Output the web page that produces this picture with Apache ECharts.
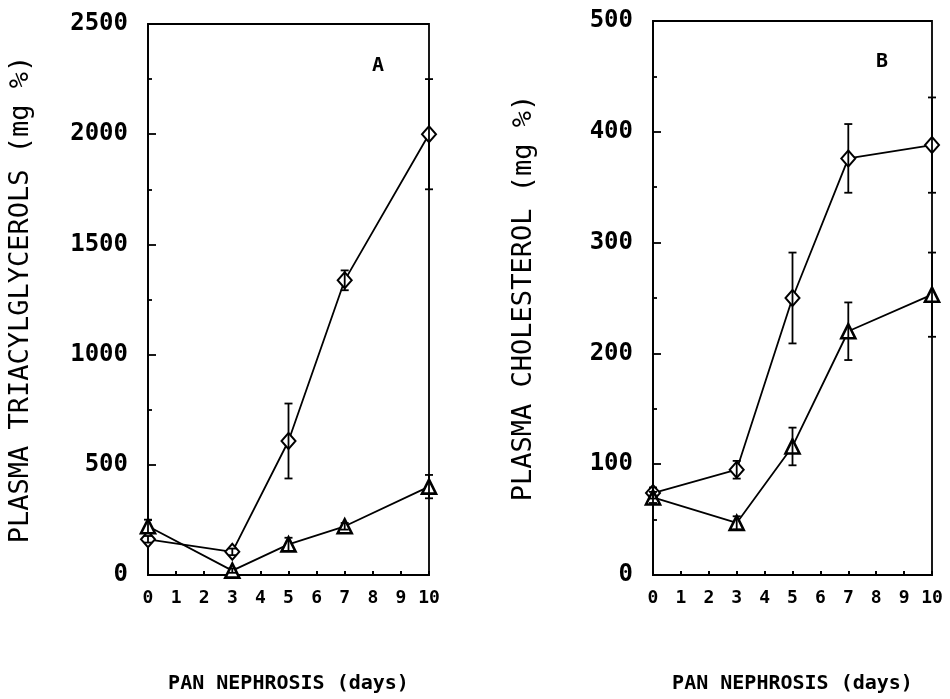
<!DOCTYPE html>
<html>
<head>
<meta charset="utf-8">
<script src="https://cdn.jsdelivr.net/npm/echarts@6/dist/echarts.min.js"></script>
<style>
  html, body { margin: 0; padding: 0; background: #fff; }
  #chart { width: 950px; height: 699px; }
</style>
</head>
<body>
<div id="chart"></div>
<script>
  // days
  var days = [0, 3, 5, 7, 10];
  var xTicks = ['0','1','2','3','4','5','6','7','8','9','10'];

  // panel A - triacylglycerols (mg %)
  var tgDiamond = [162, 105, 608, 1337, 2000];
  var tgDiamondErr = [15, 15, 170, 45, 250];
  var tgTriangle = [221, 20, 139, 221, 401];
  var tgTriangleErr = [30, 10, 30, 15, 53];

  // panel B - cholesterol (mg %)
  var chDiamond = [74, 95, 250, 376, 388];
  var chDiamondErr = [5, 8, 41, 31, 43];
  var chTriangle = [70, 47, 116, 220, 253];
  var chTriangleErr = [5, 6, 17, 26, 38];

  var myChart = echarts.init(document.getElementById('chart'));
  var FONT = 'DejaVu Sans Mono';

  function pairs(vals) {
    var out = [];
    for (var i = 0; i < days.length; i++) out.push([days[i], vals[i]]);
    return out;
  }
  function errData(vals, errs) {
    var out = [];
    for (var i = 0; i < days.length; i++) out.push([days[i], vals[i] - errs[i], vals[i] + errs[i]]);
    return out;
  }
  // error bar drawn with the axis scale
  function errRender(params, api) {
    var lo = api.coord([api.value(0), api.value(1)]);
    var hi = api.coord([api.value(0), api.value(2)]);
    var w = 4;
    var st = { stroke: '#000', lineWidth: 1.8 };
    return {
      type: 'group',
      children: [
        { type: 'line', shape: { x1: lo[0], y1: lo[1], x2: hi[0], y2: hi[1] }, style: st },
        { type: 'line', shape: { x1: lo[0] - w, y1: lo[1], x2: lo[0] + w, y2: lo[1] }, style: st },
        { type: 'line', shape: { x1: hi[0] - w, y1: hi[1], x2: hi[0] + w, y2: hi[1] }, style: st }
      ]
    };
  }

  function xAxisCfg(idx) {
    return {
      type: 'value', gridIndex: idx, min: 0, max: 10, interval: 1,
      name: 'PAN NEPHROSIS (days)', nameLocation: 'middle', nameGap: 99,
      nameTextStyle: { fontFamily: FONT, fontWeight: 'bold', fontSize: 20, color: '#000' },
      axisLine: { lineStyle: { color: '#000', width: 1.8 } },
      axisTick: { inside: true, length: 4, lineStyle: { color: '#000', width: 2 } },
      axisLabel: {
        fontFamily: FONT, fontWeight: 'bold', fontSize: 18, color: '#000', margin: 14,
        formatter: function (v) { return xTicks[v]; }
      },
      splitLine: { show: false }
    };
  }
  function yAxisCfg(idx, max, interval, name, nameGap) {
    return {
      type: 'value', gridIndex: idx, min: 0, max: max, interval: interval,
      name: name, nameLocation: 'middle', nameGap: nameGap, nameRotate: 90,
      nameTextStyle: { fontFamily: FONT, fontSize: 27, color: '#000' },
      axisLine: { show: true, lineStyle: { color: '#000', width: 1.8 } },
      axisTick: { inside: true, length: 8, lineStyle: { color: '#000', width: 1.8 } },
      minorTick: { show: true, splitNumber: 2, length: 4, lineStyle: { color: '#000', width: 1.8 } },
      axisLabel: {
        fontFamily: FONT, fontWeight: 'bold', fontSize: 24, color: '#000', margin: 20,
        formatter: function (v) { return String(v); }
      },
      splitLine: { show: false }
    };
  }
  function lineSeries(idx, vals, symbol, size, bw) {
    return {
      type: 'line', xAxisIndex: idx, yAxisIndex: idx, data: pairs(vals),
      symbol: symbol, symbolSize: size, z: 3,
      lineStyle: { color: '#000', width: 1.8 },
      itemStyle: { color: '#fff', borderColor: '#000', borderWidth: bw }
    };
  }
  function errSeries(idx, vals, errs) {
    return {
      type: 'custom', xAxisIndex: idx, yAxisIndex: idx, data: errData(vals, errs),
      renderItem: errRender, z: 4, silent: true
    };
  }

  var option = {
    backgroundColor: '#fff',
    animation: false,
    grid: [
      { left: 148, top: 24, width: 281, height: 557, show: true, borderColor: '#000', borderWidth: 1.8 },
      { left: 653, top: 21, width: 279, height: 557, show: true, borderColor: '#000', borderWidth: 1.8 }
    ],
    xAxis: [xAxisCfg(0), xAxisCfg(1)],
    yAxis: [
      yAxisCfg(0, 2500, 500, 'PLASMA TRIACYLGLYCEROLS (mg %)', 114),
      yAxisCfg(1, 500, 100, 'PLASMA CHOLESTEROL (mg %)', 116)
    ],
    graphic: [
      { type: 'text', left: 372, top: 56, style: { text: 'A', font: 'bold 20px "DejaVu Sans Mono"', fill: '#000' } },
      { type: 'text', left: 876, top: 52, style: { text: 'B', font: 'bold 20px "DejaVu Sans Mono"', fill: '#000' } }
    ],
    series: [
      lineSeries(0, tgDiamond, 'diamond', [14, 16], 2),
      lineSeries(0, tgTriangle, 'triangle', 14, 2.6),
      errSeries(0, tgDiamond, tgDiamondErr),
      errSeries(0, tgTriangle, tgTriangleErr),
      lineSeries(1, chDiamond, 'diamond', [14, 16], 2),
      lineSeries(1, chTriangle, 'triangle', 14, 2.6),
      errSeries(1, chDiamond, chDiamondErr),
      errSeries(1, chTriangle, chTriangleErr)
    ]
  };
  myChart.setOption(option);
</script>
</body>
</html>
